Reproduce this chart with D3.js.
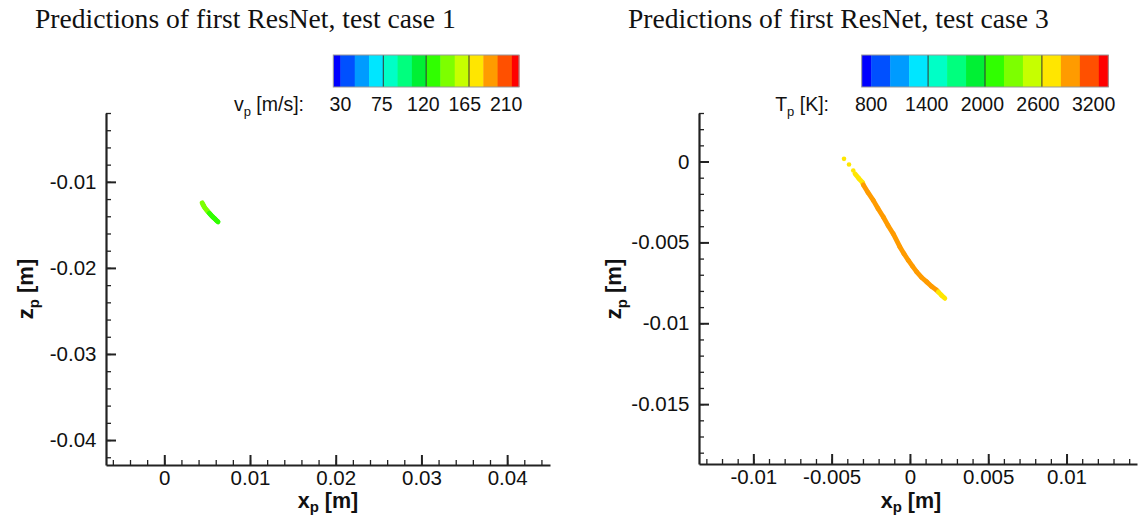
<!DOCTYPE html>
<html>
<head>
<meta charset="utf-8">
<script src="https://cdn.jsdelivr.net/npm/d3@7"></script>
<style>
  html, body { margin: 0; padding: 0; background: #fff; }
  svg { display: block; }
  .tick text { font-family: "Liberation Sans", Arial, sans-serif; font-size: 20.5px; fill: #111; }
</style>
</head>
<body>
<svg id="chart" width="1140" height="517"></svg>
<script>
// ---------------- data ----------------
const titles = ["Predictions of first ResNet, test case 1", "Predictions of first ResNet, test case 3"];

// contour colours (shared by both legends), lowest to highest
const contourColors = ["#0000ff", "#0050ff", "#009bff", "#00e6ff", "#00ffc6", "#00ff7e", "#00f034",
                       "#30ff00", "#7dff00", "#c6ff00", "#ffe600", "#ff9b00", "#ff5000", "#ff0000"];

// case 1 : particle velocity v_p [m/s]
const leftLevels = [30, 45, 60, 75, 90, 105, 120, 135, 150, 165, 180, 195, 210];
const leftLegendLabels = [30, 75, 120, 165, 210];
const leftXTicks = [0, 0.01, 0.02, 0.03, 0.04];
const leftYTicks = [-0.01, -0.02, -0.03, -0.04];
const leftX = [0.00442, 0.00452, 0.00462, 0.00473, 0.00486, 0.00499, 0.00512, 0.00525, 0.00538, 0.00551, 0.00564, 0.00577, 0.00590, 0.00603, 0.00616, 0.00628];
const leftZ = [-0.01244, -0.01264, -0.01283, -0.01302, -0.01318, -0.01334, -0.01349, -0.01364, -0.01378, -0.01392, -0.01405, -0.01418, -0.01430, -0.01442, -0.01454, -0.01465];
const leftV = [142, 141, 140, 139, 138, 137, 136, 134, 133, 132, 131, 130, 129, 128, 127, 126];

// case 3 : particle temperature T_p [K]
const rightLevels = [800, 1000, 1200, 1400, 1600, 1800, 2000, 2200, 2400, 2600, 2800, 3000, 3200];
const rightLegendLabels = [800, 1400, 2000, 2600, 3200];
const rightXTicks = [-0.01, -0.005, 0, 0.005, 0.01];
const rightYTicks = [0, -0.005, -0.01, -0.015];
const rightX = [-0.00421, -0.00389, -0.00362, -0.00351, -0.00327, -0.00302, -0.00298, -0.00268, -0.00234, -0.00204, -0.00170, -0.00140, -0.00107, -0.00064, -0.00038, -0.00011, 0.00016, 0.00043, 0.00073, 0.00107, 0.00137, 0.00170, 0.00181, 0.00201, 0.00223];
const rightZ = [0.000166, -0.000185, -0.000555, -0.000758, -0.00104, -0.00131, -0.00144, -0.00191, -0.00240, -0.00290, -0.00343, -0.00395, -0.00446, -0.00528, -0.00570, -0.00610, -0.00647, -0.00682, -0.00715, -0.00744, -0.00771, -0.00795, -0.00806, -0.00826, -0.00846];
const rightT = [2660, 2690, 2720, 2740, 2760, 2780, 2820, 2850, 2880, 2900, 2920, 2930, 2940, 2950, 2950, 2950, 2940, 2930, 2920, 2900, 2880, 2850, 2790, 2770, 2750];
const rightIsolatedDots = 3; // first points are separate dots

// ---------------- drawing ----------------
const svg = d3.select("#chart");
const sansFont = '"Liberation Sans", Arial, sans-serif';

const panels = [
  {
    title: titles[0], titleX: 35,
    xDomain: [-0.0068, 0.045], xRange: [106, 550],
    yDomain: [-0.0429, -0.002], yRange: [465, 113],
    xTicks: leftXTicks, yTicks: leftYTicks, minorStep: 0.002,
    xs: leftX, zs: leftZ, vals: leftV, isolated: 0,
    levels: leftLevels, legendLabels: leftLegendLabels, labelSpread: 0.967,
    legendRange: [333.3, 519], legendName: ["v", "p", " [m/s]:"], legendNameEnd: 304,
    xTitleX: 328, zTitleX: 33
  },
  {
    title: titles[1], titleX: 628,
    xDomain: [-0.01347, 0.0145], xRange: [699, 1137],
    yDomain: [-0.0187, 0.003], yRange: [464, 113],
    xTicks: rightXTicks, yTicks: rightYTicks, minorStep: 0.001,
    xs: rightX, zs: rightZ, vals: rightT, isolated: rightIsolatedDots,
    levels: rightLevels, legendLabels: rightLegendLabels, labelSpread: 0.977,
    legendRange: [861.7, 1108.3], legendName: ["T", "p", " [K]:"], legendNameEnd: 829,
    xTitleX: 911, zTitleX: 621
  }
];

const fmt = d => String(+(+d).toFixed(4));

panels.forEach(p => {
  const x = d3.scaleLinear().domain(p.xDomain).range(p.xRange);
  const y = d3.scaleLinear().domain(p.yDomain).range(p.yRange);
  const color = d3.scaleThreshold().domain(p.levels).range(contourColors);

  // title
  svg.append("text")
    .attr("x", p.titleX).attr("y", 28)
    .attr("font-family", '"Liberation Serif", "Times New Roman", serif')
    .attr("font-size", 27.6).attr("fill", "#111")
    .text(p.title);

  // legend (colour bar)
  const half = (p.levels[1] - p.levels[0]) / 2;
  const lx = d3.scaleLinear()
    .domain([p.levels[0] - half, p.levels[p.levels.length - 1] + half])
    .range(p.legendRange);
  const bounds = [lx.domain()[0], ...p.levels, lx.domain()[1]];
  const cells = d3.range(bounds.length - 1).map(i => ({ lo: bounds[i], hi: bounds[i + 1], c: contourColors[i] }));
  const leg = svg.append("g");
  leg.selectAll("rect.cell").data(cells).join("rect")
    .attr("class", "cell")
    .attr("x", d => lx(d.lo)).attr("width", d => lx(d.hi) - lx(d.lo) + 0.4)
    .attr("y", 55).attr("height", 32)
    .attr("fill", d => d.c);
  leg.selectAll("line.sep").data(p.legendLabels.slice(1, -1)).join("line")
    .attr("class", "sep")
    .attr("x1", d => lx(d)).attr("x2", d => lx(d))
    .attr("y1", 55).attr("y2", 87)
    .attr("stroke", "#333").attr("stroke-width", 1);
  leg.append("rect")
    .attr("x", p.legendRange[0]).attr("y", 55)
    .attr("width", p.legendRange[1] - p.legendRange[0]).attr("height", 32)
    .attr("fill", "none").attr("stroke", "#999").attr("stroke-width", 1);
  const first = lx(p.legendLabels[0]);
  leg.selectAll("text.lab").data(p.legendLabels).join("text")
    .attr("class", "lab")
    .attr("x", d => first + (lx(d) - first) * p.labelSpread).attr("y", 111)
    .attr("text-anchor", "middle")
    .attr("font-family", sansFont).attr("font-size", 19.5).attr("fill", "#111")
    .text(d => d);
  const nm = leg.append("text")
    .attr("x", p.legendNameEnd).attr("y", 111)
    .attr("text-anchor", "end")
    .attr("font-family", sansFont).attr("font-size", 19.5).attr("fill", "#111");
  nm.append("tspan").text(p.legendName[0]);
  nm.append("tspan").attr("dy", 5).attr("font-size", 13).text(p.legendName[1]);
  nm.append("tspan").attr("dy", -5).text(p.legendName[2]);

  // minor ticks
  const minorX = d3.range(Math.ceil(p.xDomain[0] / p.minorStep), Math.floor(p.xDomain[1] / p.minorStep) + 1).map(k => k * p.minorStep);
  const minorY = d3.range(Math.ceil(p.yDomain[0] / p.minorStep), Math.floor(p.yDomain[1] / p.minorStep) + 1).map(k => k * p.minorStep);

  const xAxisY = p.yRange[0], yAxisX = p.xRange[0];

  svg.append("g").attr("transform", `translate(0,${xAxisY})`)
    .call(d3.axisBottom(x).tickValues(minorX).tickSizeInner(-5).tickSizeOuter(0).tickFormat(""))
    .call(g => g.select(".domain").remove())
    .call(g => g.selectAll("line").attr("stroke", "#222").attr("stroke-width", 1.3));
  svg.append("g").attr("transform", `translate(${yAxisX},0)`)
    .call(d3.axisLeft(y).tickValues(minorY).tickSizeInner(-5).tickSizeOuter(0).tickFormat(""))
    .call(g => g.select(".domain").remove())
    .call(g => g.selectAll("line").attr("stroke", "#222").attr("stroke-width", 1.3));

  // major axes
  svg.append("g").attr("transform", `translate(0,${xAxisY})`)
    .call(d3.axisBottom(x).tickValues(p.xTicks).tickSizeInner(-10).tickSizeOuter(0).tickPadding(5).tickFormat(fmt))
    .call(g => g.select(".domain").attr("stroke", "#222").attr("stroke-width", 2.2))
    .call(g => g.selectAll(".tick line").attr("stroke", "#222").attr("stroke-width", 2));
  svg.append("g").attr("transform", `translate(${yAxisX},0)`)
    .call(d3.axisLeft(y).tickValues(p.yTicks).tickSizeInner(-10).tickSizeOuter(0).tickPadding(9.5).tickFormat(fmt))
    .call(g => g.select(".domain").attr("stroke", "#222").attr("stroke-width", 2.2))
    .call(g => g.selectAll(".tick line").attr("stroke", "#222").attr("stroke-width", 2));

  // axis titles
  const xt = svg.append("text")
    .attr("x", p.xTitleX).attr("y", 508).attr("text-anchor", "middle")
    .attr("font-family", sansFont).attr("font-weight", "bold").attr("font-size", 21.5).attr("fill", "#111");
  xt.append("tspan").text("x");
  xt.append("tspan").attr("dy", 4).attr("font-size", 15).text("p");
  xt.append("tspan").attr("dy", -4).text(" [m]");

  const zt = svg.append("text")
    .attr("transform", `translate(${p.zTitleX},289) rotate(-90)`)
    .attr("text-anchor", "middle")
    .attr("font-family", sansFont).attr("font-weight", "bold").attr("font-size", 22).attr("fill", "#111");
  zt.append("tspan").text("z");
  zt.append("tspan").attr("dy", 6).attr("font-size", 15).text("p");
  zt.append("tspan").attr("dy", -6).text(" [m]");

  // data
  const pts = p.xs.map((v, i) => ({ x: v, z: p.zs[i], v: p.vals[i] }));
  const segs = d3.range(p.isolated, pts.length - 1).map(i => [pts[i], pts[i + 1]]);
  const dg = svg.append("g");
  dg.selectAll("line").data(segs).join("line")
    .attr("x1", d => x(d[0].x)).attr("y1", d => y(d[0].z))
    .attr("x2", d => x(d[1].x)).attr("y2", d => y(d[1].z))
    .attr("stroke", d => color(d[0].v))
    .attr("stroke-width", 4.8).attr("stroke-linecap", "round");
  dg.selectAll("circle").data(pts.slice(0, p.isolated)).join("circle")
    .attr("cx", d => x(d.x)).attr("cy", d => y(d.z)).attr("r", 2.3)
    .attr("fill", d => color(d.v));
});
</script>
</body>
</html>
